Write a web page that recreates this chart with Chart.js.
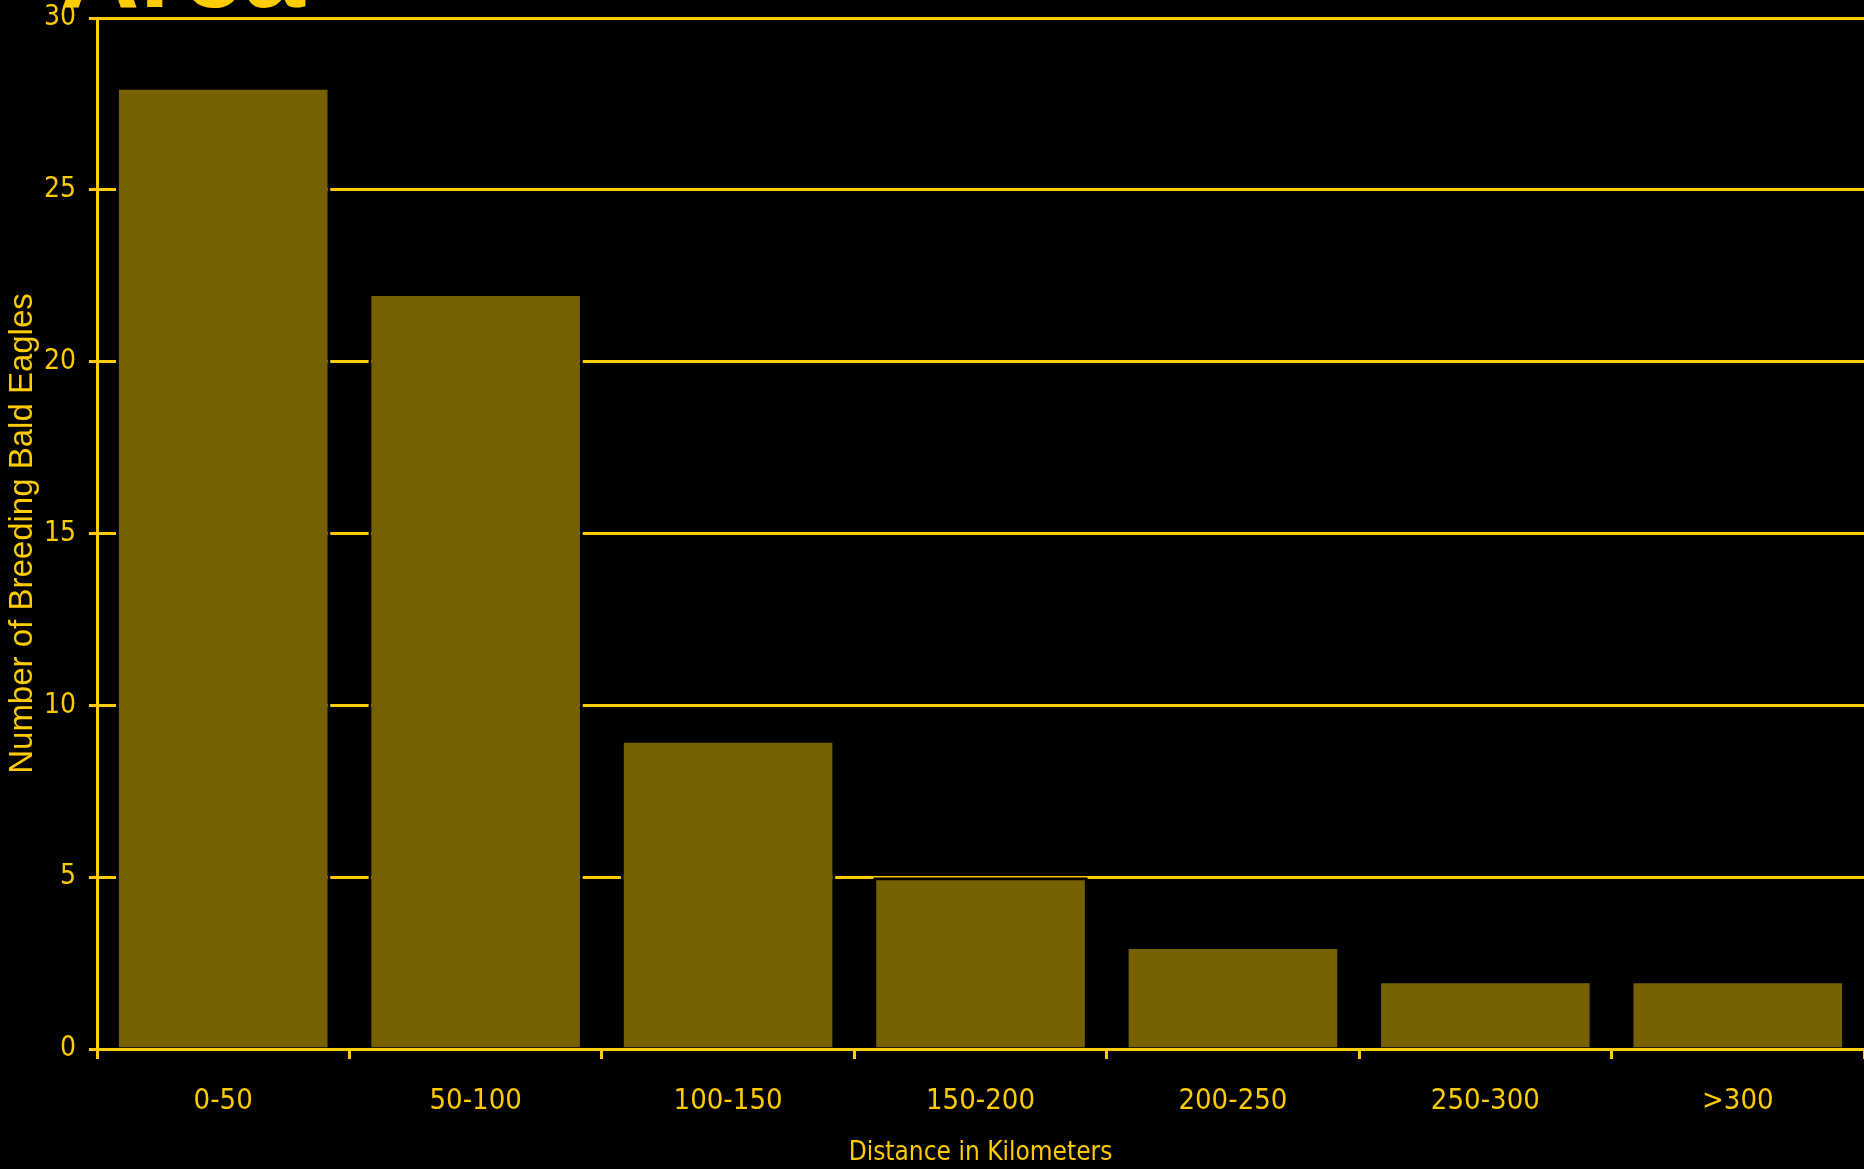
<!DOCTYPE html>
<html>
<head>
<meta charset="utf-8">
<script src="https://cdn.jsdelivr.net/npm/chart.js@4/dist/chart.umd.min.js"></script>
<style>
  html, body { margin: 0; padding: 0; background: #000; }
  #wrap { width: 1864px; height: 1169px; position: relative; }
</style>
</head>
<body>
<div id="wrap"><canvas id="eagleChart"></canvas></div>
<script>
const distanceBins = ['0-50', '50-100', '100-150', '150-200', '200-250', '250-300', '>300'];
const eagleCounts = [28, 22, 9, 5, 3, 2, 2];
const yTicks = [0, 5, 10, 15, 20, 25, 30];

const yellow = '#FFCC00';
const barFill = '#766000';
const narrow = '"Liberation Sans Narrow", "DejaVu Sans Condensed", sans-serif';

// leftover bottom of the slide title, cut off at the top of the picture
const slideTitle = {
  id: 'slideTitle',
  afterDraw(chart) {
    const ctx = chart.ctx;
    ctx.save();
    ctx.fillStyle = yellow;
    ctx.font = 'bold 110px "Liberation Sans", Arial, sans-serif';
    ctx.textBaseline = 'alphabetic';
    ctx.fillText('Area', 60, 7);
    ctx.restore();
  }
};

const ctx = document.getElementById('eagleChart').getContext('2d');
new Chart(ctx, {
  type: 'bar',
  data: {
    labels: distanceBins,
    datasets: [{
      data: eagleCounts,
      backgroundColor: barFill,
      borderColor: '#000',
      borderWidth: 3,
      barPercentage: 0.85,
      categoryPercentage: 1.0
    }]
  },
  options: {
    responsive: true,
    maintainAspectRatio: false,
    animation: false,
    layout: { padding: { top: 18, right: 0, left: 0, bottom: 0 } },
    plugins: {
      legend: { display: false },
      tooltip: { enabled: false }
    },
    scales: {
      x: {
        z: 1,
        grid: {
          drawOnChartArea: false,
          color: yellow,
          lineWidth: 3,
          tickLength: 10,
          offset: true
        },
        border: { color: yellow, width: 3 },
        ticks: {
          color: yellow,
          padding: 25,
          font: { family: narrow, size: 29 }
        },
        title: {
          display: true,
          text: 'Distance in Kilometers',
          color: yellow,
          padding: { top: 0, bottom: 0 },
          font: { family: narrow, size: 26 }
        },
        afterFit(scale) {
          scale.height = 120;
          scale.paddingLeft = 0;
          scale.paddingRight = 0;
        }
      },
      y: {
        min: 0,
        max: 30,
        afterBuildTicks(scale) { scale.ticks = yTicks.map(v => ({ value: v })); },
        grid: {
          color: yellow,
          lineWidth: 3,
          tickLength: 8
        },
        border: { color: yellow, width: 3 },
        ticks: {
          color: yellow,
          padding: 13,
          font: { family: narrow, size: 28 }
        },
        title: {
          display: true,
          text: 'Number of Breeding Bald Eagles',
          color: yellow,
          padding: { top: 3, bottom: 0 },
          font: { family: '"Liberation Sans", Arial, sans-serif', size: 33 }
        },
        afterFit(scale) {
          scale.width = 97;
          scale.paddingTop = 0;
          scale.paddingBottom = 0;
        }
      }
    }
  },
  plugins: [slideTitle]
});
</script>
</body>
</html>
